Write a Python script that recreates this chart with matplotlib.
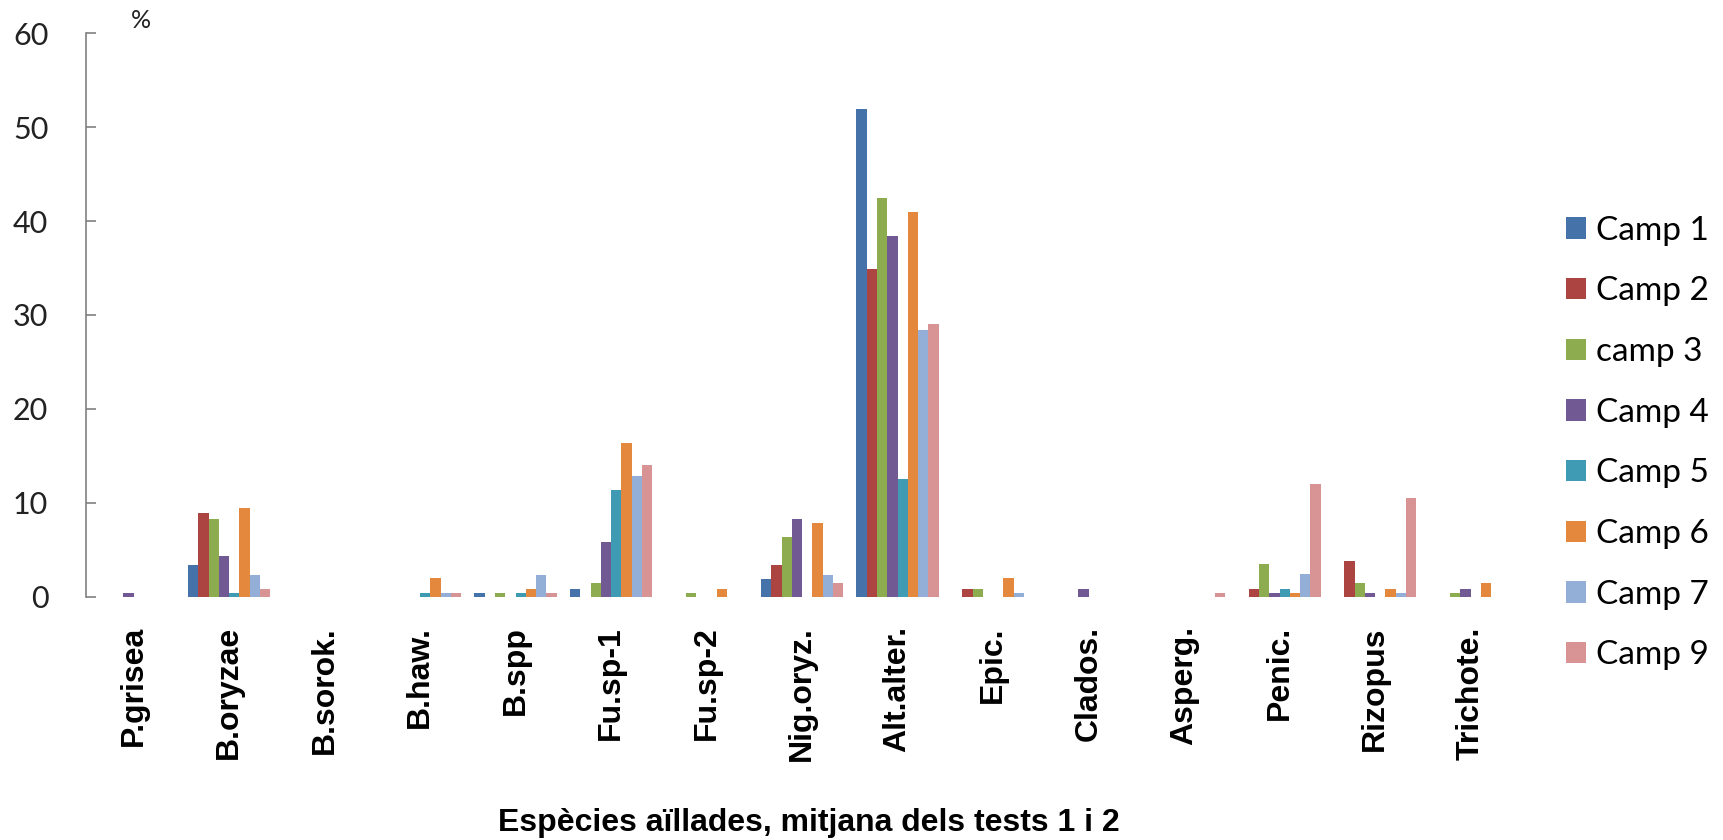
import numpy as np
import matplotlib.pyplot as plt

# species isolated, mean of tests 1 and 2 (%)
especies = ['P.grisea', 'B.oryzae', 'B.sorok.', 'B.haw.', 'B.spp', 'Fu.sp-1', 'Fu.sp-2',
            'Nig.oryz.', 'Alt.alter.', 'Epic.', 'Clados.', 'Asperg.', 'Penic.', 'Rizopus',
            'Trichote.']

camp1 = [0, 3.45, 0, 0, 0.4, 0.85, 0, 1.9, 51.9, 0, 0, 0, 0, 0, 0]
camp2 = [0, 8.9, 0, 0, 0, 0, 0, 3.45, 34.9, 0.85, 0, 0, 0.85, 3.85, 0]
camp3 = [0, 8.3, 0, 0, 0.4, 1.5, 0.4, 6.4, 42.5, 0.85, 0, 0, 3.5, 1.45, 0.4]
camp4 = [0.4, 4.4, 0, 0, 0, 5.9, 0, 8.3, 38.4, 0, 0.85, 0, 0.4, 0.4, 0.85]
camp5 = [0, 0.4, 0, 0.4, 0.4, 11.4, 0, 0, 12.5, 0, 0, 0, 0.85, 0, 0]
camp6 = [0, 9.5, 0, 2.0, 0.85, 16.4, 0.85, 7.9, 41.0, 2.0, 0, 0, 0.4, 0.85, 1.45]
camp7 = [0, 2.3, 0, 0.4, 2.3, 12.9, 0, 2.3, 28.4, 0.4, 0, 0, 2.4, 0.4, 0]
camp9 = [0, 0.85, 0, 0.4, 0.4, 14.0, 0, 1.5, 29.0, 0, 0, 0.4, 12.0, 10.5, 0]

series = [camp1, camp2, camp3, camp4, camp5, camp6, camp7, camp9]
noms = ['Camp 1', 'Camp 2', 'camp 3', 'Camp 4', 'Camp 5', 'Camp 6', 'Camp 7', 'Camp 9']
colors = ['#4672AA', '#AC4442', '#8DAB4F', '#715994', '#3F9BB3', '#E3883D', '#93AFD8', '#D89394']

fig = plt.figure(figsize=(17.23, 8.4), dpi=100)
ax = fig.add_axes([0.0498, 0.2893, 0.8314, 0.6714])

x = np.arange(len(especies))
w = 0.86 / len(series)
for i, (vals, nom, c) in enumerate(zip(series, noms, colors)):
    ax.bar(x - 0.43 + w * (i + 0.5), vals, width=w, color=c, label=nom)

ax.set_xlim(-0.5, len(especies) - 0.5)
ax.set_ylim(0, 60)
ax.set_yticks(range(0, 61, 10))
for lab in ax.get_yticklabels():
    lab.set_fontfamily('Lato')
ax.tick_params(axis='y', direction='in', labelsize=22, length=7, width=1.2,
               color='#808080', pad=27, labelcolor='#222222')
ax.set_xticks(x)
ax.set_xticklabels(especies, rotation=90, fontsize=23, fontweight='bold',
                   fontfamily='Liberation Sans')
ax.tick_params(axis='x', length=0, pad=21)

for s in ['top', 'right', 'bottom']:
    ax.spines[s].set_visible(False)
ax.spines['left'].set_color('#808080')
ax.spines['left'].set_linewidth(1.2)

ax.set_xlabel('Espècies aïllades, mitjana dels tests 1 i 2', fontsize=23, fontweight='bold',
              fontfamily='Liberation Sans')
ax.xaxis.set_label_coords(0.505, -0.375)
fig.text(141 / 1723, 1 - 20 / 840, '%', fontsize=18, fontfamily='Lato',
         va='center', ha='center', color='#222222')

ax.legend(loc='upper left', bbox_to_anchor=(0.9013, 0.759), bbox_transform=fig.transFigure,
          borderaxespad=0, frameon=False, prop={'family': 'Lato', 'size': 24},
          handlelength=0.6, handleheight=0.6, handletextpad=0.3, labelspacing=0.92)

fig.savefig('out.png', dpi=100)
